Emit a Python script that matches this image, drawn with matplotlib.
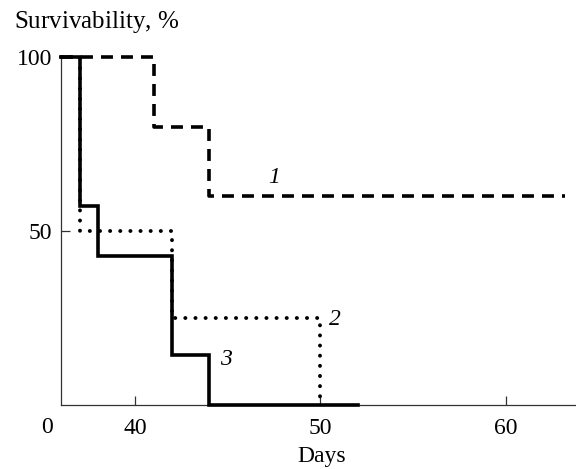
import matplotlib
matplotlib.use("Agg")
import matplotlib.pyplot as plt

# Survival curves (step functions), days vs survivability %
days_1 = [36, 41, 44, 63.2]
surv_1 = [100, 80, 60, 60]

days_2 = [36, 37, 42, 50]
surv_2 = [100, 50, 25, 0]

days_3 = [36, 37, 38, 42, 44, 52]
surv_3 = [100, 57.1, 42.9, 14.3, 0, 0]

x_ticks = [40, 50, 60]
y_ticks = [50, 100]

plt.rcParams["font.family"] = ["Liberation Serif", "DejaVu Serif"]
plt.rcParams["mathtext.fontset"] = "custom"
plt.rcParams["mathtext.it"] = "Liberation Serif:italic"
plt.rcParams["mathtext.rm"] = "Liberation Serif"
plt.rcParams["lines.scale_dashes"] = False

fig = plt.figure(figsize=(5.76, 4.69), dpi=100)
ax = fig.add_axes([0.1064, 0.1375, 0.8936, 0.7403])

# dotted curve 2
ax.step(days_2, surv_2, where="post", color="black", lw=2.8,
        dashes=(0.1, 7.2), dash_capstyle="round", clip_on=False, zorder=2)
# dashed curve 1
ax.step(days_1, surv_1, where="post", color="black", lw=2.6,
        dashes=(8.6, 5.8), clip_on=False, zorder=3)
# solid curve 3
ax.step(days_3, surv_3, where="post", color="black", lw=2.6,
        solid_joinstyle="miter", clip_on=False, zorder=4)

ax.set_xlim(36, 63.8)
ax.set_ylim(0, 100)

for side in ["top", "right"]:
    ax.spines[side].set_visible(False)
for side in ["left", "bottom"]:
    ax.spines[side].set_linewidth(0.9)
    ax.spines[side].set_color("#333333")

ax.set_xticks(x_ticks)
ax.set_yticks(y_ticks)
ax.tick_params(axis="both", direction="in", length=6.5, width=0.9,
               color="#333333", labelsize=17)
ax.tick_params(axis="x", pad=10)
ax.tick_params(axis="y", pad=6.5)

# curve labels
ax.text(47.5, 65.5, "1", fontsize=17, style="italic", ha="center", va="center")
ax.text(50.8, 24.6, "2", fontsize=17, style="italic", ha="center", va="center")
ax.text(44.9, 13, "3", fontsize=17, style="italic", ha="center", va="center")

fig.text(46.7 / 576, 1 - 427 / 469, "0", fontsize=17, ha="center", va="center")
fig.text(321.7 / 576, 1 - 456.7 / 469, "Days", fontsize=17, ha="center", va="center")
fig.text(14 / 576, 1 - 28 / 469, r"Survivability, $\mathit{\%}$", fontsize=18,
         ha="left", va="baseline")

fig.savefig("out.png", dpi=100)
